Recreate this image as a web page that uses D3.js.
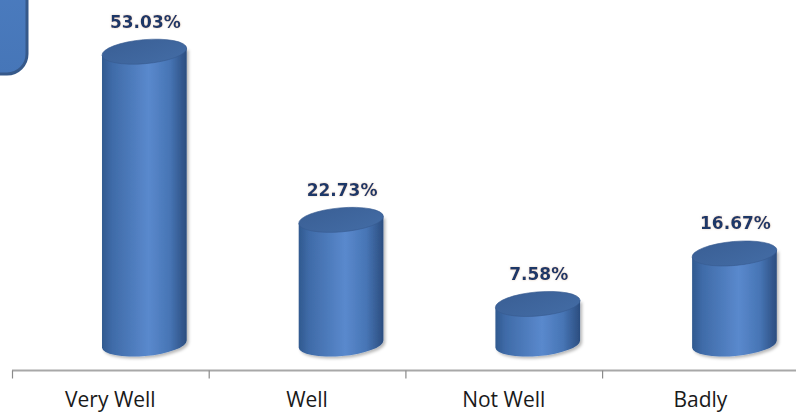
<!DOCTYPE html>
<html>
<head>
<meta charset="utf-8">
<script src="https://cdn.jsdelivr.net/npm/d3@7"></script>
<style>
html,body{margin:0;padding:0;background:#fff;}
svg{display:block;}
</style>
</head>
<body>
<svg id="chart" width="796" height="412"></svg>
<script>
const categories = ["Very Well", "Well", "Not Well", "Badly"];
const values = [53.03, 22.73, 7.58, 16.67];
const valueLabels = values.map(v => v.toFixed(2) + "%");

const svg = d3.select("#chart");
const W = 796, H = 412;

const x = d3.scaleBand().domain(categories).range([12, 798.8]).padding(0);
const y = d3.scaleLinear().domain([0, 60]).range([346, 13]);

const defs = svg.append("defs");
const grad = defs.append("linearGradient").attr("id", "body").attr("x1", "0").attr("x2", "1").attr("y1", "0").attr("y2", "0");
[[0, "#30598f"], [0.12, "#3f6ba8"], [0.55, "#5a89cd"], [0.8, "#4775b5"], [1, "#2b4d7f"]]
  .forEach(([o, c]) => grad.append("stop").attr("offset", o).attr("stop-color", c));
const gtop = defs.append("linearGradient").attr("id", "topg").attr("x1", "0").attr("x2", "1").attr("y1", "0").attr("y2", "1");
[[0, "#3a5f95"], [1, "#436ca5"]].forEach(([o, c]) => gtop.append("stop").attr("offset", o).attr("stop-color", c));
const boxg = defs.append("linearGradient").attr("id", "boxg").attr("x1", "0").attr("x2", "0").attr("y1", "0").attr("y2", "1");
[[0, "#4f80c4"], [1, "#4676b8"]].forEach(([o, c]) => boxg.append("stop").attr("offset", o).attr("stop-color", c));
const sh = defs.append("filter").attr("id", "shadow").attr("x", "-20%").attr("y", "-20%").attr("width", "140%").attr("height", "140%");
sh.append("feDropShadow").attr("dx", 2).attr("dy", 2).attr("stdDeviation", 1.8).attr("flood-color", "#000").attr("flood-opacity", 0.28);
const glow = defs.append("filter").attr("id", "glow").attr("x", "-10%").attr("y", "-30%").attr("width", "120%").attr("height", "160%");
glow.append("feDropShadow").attr("dx", 0).attr("dy", 0).attr("stdDeviation", 0.8).attr("flood-color", "#c9a27a").attr("flood-opacity", 0.5);

// top-left partial box
svg.append("rect")
  .attr("x", -100).attr("y", -100).attr("width", 127).attr("height", 174)
  .attr("rx", 20).attr("ry", 20)
  .attr("fill", "url(#boxg)").attr("stroke", "#36598a").attr("stroke-width", 3);

// axis
const axisY = 370.5;
svg.append("line").attr("x1", 12).attr("x2", W).attr("y1", axisY).attr("y2", axisY)
  .attr("stroke", "#a8a8a8").attr("stroke-width", 2.2);
const tickXs = categories.map(c => x(c));
svg.selectAll("line.tick").data(tickXs).enter().append("line")
  .attr("class", "tick")
  .attr("x1", d => d + 0.5).attr("x2", d => d + 0.5)
  .attr("y1", axisY).attr("y2", axisY + 8)
  .attr("stroke", "#8a8a8a").attr("stroke-width", 1.2);

svg.selectAll("text.cat").data(categories).enter().append("text")
  .attr("class", "cat")
  .attr("x", d => x(d) + x.bandwidth() / 2)
  .attr("y", 407)
  .attr("text-anchor", "middle")
  .attr("font-family", "Open Sans, sans-serif")
  .attr("font-size", 21)
  .attr("fill", "#1a1a1a")
  .text(d => d);

// cylinders
const rx = 42.5, ry = 12, rot = -5;
const th = rot * Math.PI / 180;
const dxE = rx * Math.cos(th), dyE = rx * Math.sin(th);
const baseY = y(0) - 2;

const g = svg.selectAll("g.cyl").data(categories.map((c, i) => ({ c, v: values[i], lab: valueLabels[i] })))
  .enter().append("g").attr("class", "cyl");

g.each(function (d) {
  const gg = d3.select(this);
  const cx = x(d.c) + x.bandwidth() / 2 + 34;
  const yt = y(d.v);
  const yb = baseY;
  const body = `M${cx - dxE},${yt - dyE} L${cx - dxE},${yb - dyE} A${rx},${ry} ${rot} 0 0 ${cx + dxE},${yb + dyE} L${cx + dxE},${yt + dyE} Z`;
  gg.append("path").attr("d", body).attr("fill", "url(#body)").attr("filter", "url(#shadow)");
  gg.append("ellipse")
    .attr("cx", 0).attr("cy", 0).attr("rx", rx).attr("ry", ry)
    .attr("transform", `translate(${cx},${yt}) rotate(${rot})`)
    .attr("fill", "url(#topg)")
    .attr("stroke", "#375b8f").attr("stroke-width", 0.6);
  gg.append("text")
    .attr("x", cx + 1).attr("y", yt - 24)
    .attr("text-anchor", "middle")
    .attr("font-family", "DejaVu Sans, sans-serif")
    .attr("font-weight", "bold")
    .attr("font-size", 17)
    .attr("fill", "#1f3868")
    .attr("filter", "url(#glow)")
    .text(d.lab);
});
</script>
</body>
</html>
